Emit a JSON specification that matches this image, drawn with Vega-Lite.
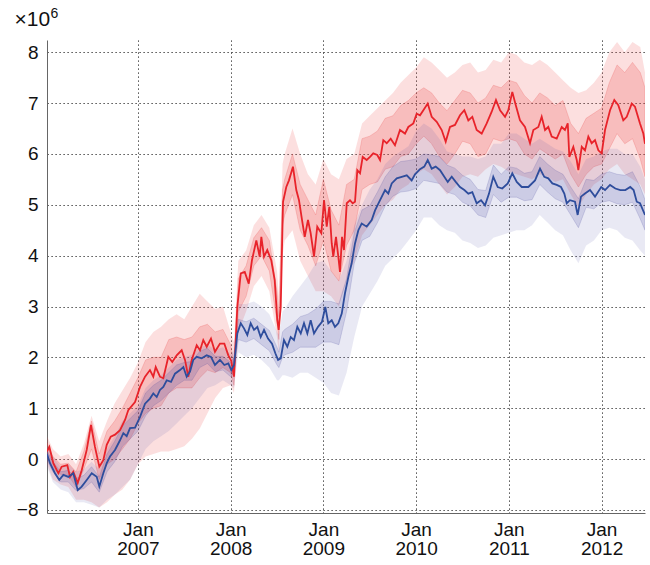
{
  "$schema": "https://vega.github.io/schema/vega-lite/v6.json",
  "width": 598,
  "height": 473,
  "autosize": "none",
  "padding": {"left": 47, "top": 40, "right": 5, "bottom": 52},
  "config": {
    "view": {"stroke": null},
    "font": "Liberation Sans",
    "axis": {"grid": true, "gridDash": [1.2, 2.8], "gridColor": "#222", "gridWidth": 1, "gridOpacity": 1, "ticks": false, "domainColor": "#666", "domainWidth": 1, "labelFontSize": 19, "labelColor": "#111", "labelFont": "Liberation Sans", "titleFont": "Liberation Sans", "titleFontWeight": "normal", "titleColor": "#111"},
    "axisY": {"titleFontSize": 21},
    "axisX": {"titleFontSize": 14}
  },
  "datasets": {
    "lines": [
      {"t":2006.02,"s":"red","v":0.15},{"t":2006.045,"s":"red","v":0.24},{"t":2006.088,"s":"red","v":-0.08},{"t":2006.142,"s":"red","v":-0.28},{"t":2006.178,"s":"red","v":-0.15},{"t":2006.239,"s":"red","v":-0.12},{"t":2006.268,"s":"red","v":-0.35},{"t":2006.303,"s":"red","v":-0.25},{"t":2006.351,"s":"red","v":-0.47},{"t":2006.394,"s":"red","v":-0.22},{"t":2006.448,"s":"red","v":0.18},{"t":2006.494,"s":"red","v":0.67},{"t":2006.537,"s":"red","v":0.24},{"t":2006.584,"s":"red","v":-0.15},{"t":2006.627,"s":"red","v":-0.02},{"t":2006.664,"s":"red","v":0.28},{"t":2006.707,"s":"red","v":0.44},{"t":2006.753,"s":"red","v":0.48},{"t":2006.807,"s":"red","v":0.57},{"t":2006.861,"s":"red","v":0.77},{"t":2006.896,"s":"red","v":0.96},{"t":2006.969,"s":"red","v":1.12},
      {"t":2007.023,"s":"red","v":1.42},{"t":2007.077,"s":"red","v":1.62},{"t":2007.13,"s":"red","v":1.75},{"t":2007.166,"s":"red","v":1.62},{"t":2007.192,"s":"red","v":1.81},{"t":2007.238,"s":"red","v":1.62},{"t":2007.274,"s":"red","v":1.59},{"t":2007.328,"s":"red","v":2.01},{"t":2007.371,"s":"red","v":1.91},{"t":2007.418,"s":"red","v":2.04},{"t":2007.472,"s":"red","v":2.14},{"t":2007.508,"s":"red","v":1.95},{"t":2007.543,"s":"red","v":1.62},{"t":2007.58,"s":"red","v":1.95},{"t":2007.634,"s":"red","v":2.24},{"t":2007.67,"s":"red","v":2.14},{"t":2007.705,"s":"red","v":2.34},{"t":2007.742,"s":"red","v":2.21},{"t":2007.788,"s":"red","v":2.37},{"t":2007.831,"s":"red","v":2.11},{"t":2007.885,"s":"red","v":2.27},{"t":2007.932,"s":"red","v":2.27},{"t":2007.975,"s":"red","v":2.04},
      {"t":2008.007,"s":"red","v":1.93},{"t":2008.036,"s":"red","v":1.62},{"t":2008.072,"s":"red","v":2.99},{"t":2008.109,"s":"red","v":3.65},{"t":2008.152,"s":"red","v":3.68},{"t":2008.195,"s":"red","v":3.45},{"t":2008.23,"s":"red","v":3.91},{"t":2008.277,"s":"red","v":4.3},{"t":2008.313,"s":"red","v":3.98},{"t":2008.331,"s":"red","v":4.37},{"t":2008.36,"s":"red","v":3.98},{"t":2008.395,"s":"red","v":4.11},{"t":2008.438,"s":"red","v":3.91},{"t":2008.475,"s":"red","v":3.52},{"t":2008.503,"s":"red","v":2.73},{"t":2008.518,"s":"red","v":2.54},{"t":2008.54,"s":"red","v":2.99},{"t":2008.565,"s":"red","v":5.06},{"t":2008.6,"s":"red","v":5.35},{"t":2008.629,"s":"red","v":5.48},{"t":2008.672,"s":"red","v":5.75},{"t":2008.708,"s":"red","v":5.29},{"t":2008.737,"s":"red","v":5.09},{"t":2008.77,"s":"red","v":4.7},{"t":2008.799,"s":"red","v":4.37},{"t":2008.834,"s":"red","v":4.7},{"t":2008.863,"s":"red","v":4.44},{"t":2008.899,"s":"red","v":3.98},{"t":2008.934,"s":"red","v":4.57},{"t":2008.978,"s":"red","v":4.44},
      {"t":2009.007,"s":"red","v":5.09},{"t":2009.036,"s":"red","v":4.57},{"t":2009.064,"s":"red","v":4.96},{"t":2009.09,"s":"red","v":4.24},{"t":2009.107,"s":"red","v":3.98},{"t":2009.136,"s":"red","v":4.37},{"t":2009.161,"s":"red","v":3.98},{"t":2009.179,"s":"red","v":3.68},{"t":2009.201,"s":"red","v":4.37},{"t":2009.222,"s":"red","v":4.11},{"t":2009.252,"s":"red","v":5.03},{"t":2009.287,"s":"red","v":5.09},{"t":2009.316,"s":"red","v":5.03},{"t":2009.341,"s":"red","v":5.06},{"t":2009.366,"s":"red","v":5.68},{"t":2009.395,"s":"red","v":5.62},{"t":2009.424,"s":"red","v":5.94},{"t":2009.467,"s":"red","v":5.88},{"t":2009.503,"s":"red","v":5.94},{"t":2009.538,"s":"red","v":6.01},{"t":2009.581,"s":"red","v":5.98},{"t":2009.611,"s":"red","v":5.88},{"t":2009.646,"s":"red","v":6.27},{"t":2009.683,"s":"red","v":6.21},{"t":2009.726,"s":"red","v":6.3},{"t":2009.772,"s":"red","v":6.17},{"t":2009.826,"s":"red","v":6.47},{"t":2009.88,"s":"red","v":6.4},{"t":2009.916,"s":"red","v":6.53},{"t":2009.97,"s":"red","v":6.6},
      {"t":2010.006,"s":"red","v":6.79},{"t":2010.042,"s":"red","v":6.76},{"t":2010.078,"s":"red","v":6.86},{"t":2010.125,"s":"red","v":6.99},{"t":2010.168,"s":"red","v":6.73},{"t":2010.222,"s":"red","v":6.63},{"t":2010.276,"s":"red","v":6.47},{"t":2010.319,"s":"red","v":6.24},{"t":2010.365,"s":"red","v":6.53},{"t":2010.419,"s":"red","v":6.57},{"t":2010.473,"s":"red","v":6.76},{"t":2010.52,"s":"red","v":6.86},{"t":2010.563,"s":"red","v":6.66},{"t":2010.606,"s":"red","v":6.73},{"t":2010.653,"s":"red","v":6.47},{"t":2010.707,"s":"red","v":6.4},{"t":2010.761,"s":"red","v":6.6},{"t":2010.815,"s":"red","v":6.83},{"t":2010.861,"s":"red","v":7.06},{"t":2010.905,"s":"red","v":6.86},{"t":2010.959,"s":"red","v":6.73},{"t":2010.994,"s":"red","v":6.86},
      {"t":2011.037,"s":"red","v":7.22},{"t":2011.074,"s":"red","v":6.96},{"t":2011.12,"s":"red","v":6.66},{"t":2011.174,"s":"red","v":6.53},{"t":2011.228,"s":"red","v":6.21},{"t":2011.264,"s":"red","v":6.47},{"t":2011.318,"s":"red","v":6.53},{"t":2011.354,"s":"red","v":6.73},{"t":2011.39,"s":"red","v":6.47},{"t":2011.425,"s":"red","v":6.53},{"t":2011.462,"s":"red","v":6.34},{"t":2011.516,"s":"red","v":6.3},{"t":2011.57,"s":"red","v":6.53},{"t":2011.605,"s":"red","v":6.47},{"t":2011.635,"s":"red","v":6.6},{"t":2011.652,"s":"red","v":5.94},{"t":2011.695,"s":"red","v":6.14},{"t":2011.732,"s":"red","v":5.88},{"t":2011.749,"s":"red","v":5.68},{"t":2011.786,"s":"red","v":6.14},{"t":2011.821,"s":"red","v":6.07},{"t":2011.857,"s":"red","v":6.34},{"t":2011.893,"s":"red","v":6.21},{"t":2011.929,"s":"red","v":6.27},{"t":2011.965,"s":"red","v":6.07},
      {"t":2012.001,"s":"red","v":6.01},{"t":2012.037,"s":"red","v":6.47},{"t":2012.091,"s":"red","v":6.86},{"t":2012.137,"s":"red","v":7.06},{"t":2012.18,"s":"red","v":6.96},{"t":2012.234,"s":"red","v":6.66},{"t":2012.271,"s":"red","v":6.73},{"t":2012.325,"s":"red","v":6.99},{"t":2012.36,"s":"red","v":6.93},{"t":2012.414,"s":"red","v":6.6},{"t":2012.45,"s":"red","v":6.4},{"t":2012.468,"s":"red","v":6.2},
      {"t":2006.02,"s":"blue","v":0.1},{"t":2006.052,"s":"blue","v":-0.08},{"t":2006.106,"s":"blue","v":-0.28},{"t":2006.152,"s":"blue","v":-0.41},{"t":2006.196,"s":"blue","v":-0.31},{"t":2006.25,"s":"blue","v":-0.35},{"t":2006.303,"s":"blue","v":-0.28},{"t":2006.351,"s":"blue","v":-0.61},{"t":2006.394,"s":"blue","v":-0.54},{"t":2006.448,"s":"blue","v":-0.41},{"t":2006.502,"s":"blue","v":-0.28},{"t":2006.556,"s":"blue","v":-0.35},{"t":2006.584,"s":"blue","v":-0.54},{"t":2006.627,"s":"blue","v":-0.28},{"t":2006.664,"s":"blue","v":-0.08},{"t":2006.699,"s":"blue","v":0.05},{"t":2006.753,"s":"blue","v":0.18},{"t":2006.807,"s":"blue","v":0.37},{"t":2006.843,"s":"blue","v":0.51},{"t":2006.879,"s":"blue","v":0.45},{"t":2006.915,"s":"blue","v":0.61},{"t":2006.969,"s":"blue","v":0.62},
      {"t":2007.023,"s":"blue","v":0.83},{"t":2007.077,"s":"blue","v":1.09},{"t":2007.13,"s":"blue","v":1.19},{"t":2007.166,"s":"blue","v":1.29},{"t":2007.203,"s":"blue","v":1.22},{"t":2007.238,"s":"blue","v":1.36},{"t":2007.274,"s":"blue","v":1.42},{"t":2007.311,"s":"blue","v":1.55},{"t":2007.357,"s":"blue","v":1.52},{"t":2007.4,"s":"blue","v":1.68},{"t":2007.454,"s":"blue","v":1.75},{"t":2007.49,"s":"blue","v":1.81},{"t":2007.526,"s":"blue","v":1.62},{"t":2007.562,"s":"blue","v":1.72},{"t":2007.597,"s":"blue","v":1.95},{"t":2007.634,"s":"blue","v":2.01},{"t":2007.688,"s":"blue","v":1.98},{"t":2007.742,"s":"blue","v":2.04},{"t":2007.788,"s":"blue","v":2.01},{"t":2007.831,"s":"blue","v":1.85},{"t":2007.885,"s":"blue","v":1.95},{"t":2007.932,"s":"blue","v":1.85},{"t":2007.975,"s":"blue","v":1.88},
      {"t":2008.007,"s":"blue","v":1.75},{"t":2008.036,"s":"blue","v":1.85},{"t":2008.072,"s":"blue","v":2.47},{"t":2008.109,"s":"blue","v":2.67},{"t":2008.144,"s":"blue","v":2.57},{"t":2008.18,"s":"blue","v":2.44},{"t":2008.216,"s":"blue","v":2.67},{"t":2008.252,"s":"blue","v":2.54},{"t":2008.288,"s":"blue","v":2.6},{"t":2008.324,"s":"blue","v":2.4},{"t":2008.36,"s":"blue","v":2.54},{"t":2008.403,"s":"blue","v":2.37},{"t":2008.446,"s":"blue","v":2.27},{"t":2008.482,"s":"blue","v":2.08},{"t":2008.511,"s":"blue","v":1.95},{"t":2008.54,"s":"blue","v":1.98},{"t":2008.575,"s":"blue","v":2.34},{"t":2008.611,"s":"blue","v":2.21},{"t":2008.648,"s":"blue","v":2.4},{"t":2008.683,"s":"blue","v":2.34},{"t":2008.719,"s":"blue","v":2.6},{"t":2008.756,"s":"blue","v":2.47},{"t":2008.791,"s":"blue","v":2.67},{"t":2008.827,"s":"blue","v":2.47},{"t":2008.863,"s":"blue","v":2.73},{"t":2008.899,"s":"blue","v":2.47},{"t":2008.942,"s":"blue","v":2.6},{"t":2008.985,"s":"blue","v":2.7},
      {"t":2009.021,"s":"blue","v":2.99},{"t":2009.053,"s":"blue","v":2.67},{"t":2009.09,"s":"blue","v":2.73},{"t":2009.125,"s":"blue","v":2.6},{"t":2009.161,"s":"blue","v":2.67},{"t":2009.198,"s":"blue","v":2.86},{"t":2009.233,"s":"blue","v":3.26},{"t":2009.269,"s":"blue","v":3.58},{"t":2009.305,"s":"blue","v":3.85},{"t":2009.341,"s":"blue","v":4.24},{"t":2009.377,"s":"blue","v":4.5},{"t":2009.413,"s":"blue","v":4.63},{"t":2009.467,"s":"blue","v":4.57},{"t":2009.521,"s":"blue","v":4.7},{"t":2009.557,"s":"blue","v":4.89},{"t":2009.611,"s":"blue","v":5.09},{"t":2009.665,"s":"blue","v":5.29},{"t":2009.7,"s":"blue","v":5.22},{"t":2009.737,"s":"blue","v":5.42},{"t":2009.791,"s":"blue","v":5.52},{"t":2009.845,"s":"blue","v":5.55},{"t":2009.899,"s":"blue","v":5.58},{"t":2009.952,"s":"blue","v":5.48},{"t":2009.988,"s":"blue","v":5.6},
      {"t":2010.042,"s":"blue","v":5.7},{"t":2010.088,"s":"blue","v":5.75},{"t":2010.125,"s":"blue","v":5.88},{"t":2010.168,"s":"blue","v":5.71},{"t":2010.211,"s":"blue","v":5.75},{"t":2010.258,"s":"blue","v":5.68},{"t":2010.304,"s":"blue","v":5.55},{"t":2010.341,"s":"blue","v":5.45},{"t":2010.384,"s":"blue","v":5.55},{"t":2010.427,"s":"blue","v":5.45},{"t":2010.473,"s":"blue","v":5.35},{"t":2010.52,"s":"blue","v":5.29},{"t":2010.563,"s":"blue","v":5.22},{"t":2010.606,"s":"blue","v":5.25},{"t":2010.653,"s":"blue","v":5.03},{"t":2010.7,"s":"blue","v":5.09},{"t":2010.743,"s":"blue","v":4.99},{"t":2010.786,"s":"blue","v":5.22},{"t":2010.832,"s":"blue","v":5.55},{"t":2010.88,"s":"blue","v":5.35},{"t":2010.929,"s":"blue","v":5.32},{"t":2010.988,"s":"blue","v":5.42},
      {"t":2011.037,"s":"blue","v":5.62},{"t":2011.085,"s":"blue","v":5.45},{"t":2011.139,"s":"blue","v":5.35},{"t":2011.21,"s":"blue","v":5.35},{"t":2011.282,"s":"blue","v":5.48},{"t":2011.336,"s":"blue","v":5.71},{"t":2011.382,"s":"blue","v":5.55},{"t":2011.425,"s":"blue","v":5.52},{"t":2011.469,"s":"blue","v":5.42},{"t":2011.516,"s":"blue","v":5.39},{"t":2011.562,"s":"blue","v":5.35},{"t":2011.598,"s":"blue","v":5.22},{"t":2011.624,"s":"blue","v":5.03},{"t":2011.659,"s":"blue","v":5.09},{"t":2011.713,"s":"blue","v":5.06},{"t":2011.742,"s":"blue","v":4.8},{"t":2011.778,"s":"blue","v":5.16},{"t":2011.821,"s":"blue","v":5.22},{"t":2011.875,"s":"blue","v":5.29},{"t":2011.929,"s":"blue","v":5.16},{"t":2011.996,"s":"blue","v":5.35},
      {"t":2012.037,"s":"blue","v":5.29},{"t":2012.091,"s":"blue","v":5.39},{"t":2012.148,"s":"blue","v":5.32},{"t":2012.202,"s":"blue","v":5.29},{"t":2012.256,"s":"blue","v":5.29},{"t":2012.309,"s":"blue","v":5.35},{"t":2012.345,"s":"blue","v":5.29},{"t":2012.379,"s":"blue","v":5.06},{"t":2012.414,"s":"blue","v":5.03},{"t":2012.468,"s":"blue","v":4.8}
    ],
    "bands": [
      {"t":2006.02,"rol":-0.1,"ril":0.05,"rih":0.32,"roh":0.45,"bol":-0.15,"bil":-0.02,"bih":0.16,"boh":0.25},
      {"t":2006.083,"rol":-0.4,"ril":-0.2,"rih":0.05,"roh":0.2,"bol":-0.45,"bil":-0.25,"bih":-0.05,"boh":0.05},
      {"t":2006.167,"rol":-0.5,"ril":-0.3,"rih":-0.1,"roh":0.05,"bol":-0.6,"bil":-0.45,"bih":-0.25,"boh":-0.15},
      {"t":2006.25,"rol":-0.55,"ril":-0.32,"rih":-0.08,"roh":0.1,"bol":-0.65,"bil":-0.45,"bih":-0.22,"boh":-0.1},
      {"t":2006.333,"rol":-0.8,"ril":-0.55,"rih":-0.25,"roh":-0.1,"bol":-0.85,"bil":-0.62,"bih":-0.38,"boh":-0.25},
      {"t":2006.417,"rol":-0.8,"ril":-0.2,"rih":0.15,"roh":0.3,"bol":-0.85,"bil":-0.58,"bih":-0.32,"boh":-0.2},
      {"t":2006.5,"rol":-0.85,"ril":0.2,"rih":0.75,"roh":0.85,"bol":-0.9,"bil":-0.45,"bih":-0.15,"boh":-0.05},
      {"t":2006.583,"rol":-0.95,"ril":-0.4,"rih":0.1,"roh":0.35,"bol":-0.95,"bil":-0.65,"bih":-0.35,"boh":-0.2},
      {"t":2006.667,"rol":-0.85,"ril":-0.1,"rih":0.55,"roh":0.75,"bol":-0.8,"bil":-0.25,"bih":0.1,"boh":0.2},
      {"t":2006.75,"rol":-0.7,"ril":0.0,"rih":0.75,"roh":1.1,"bol":-0.7,"bil":-0.05,"bih":0.35,"boh":0.45},
      {"t":2006.833,"rol":-0.6,"ril":0.2,"rih":1.0,"roh":1.35,"bol":-0.55,"bil":0.25,"bih":0.65,"boh":0.75},
      {"t":2006.917,"rol":-0.4,"ril":0.4,"rih":1.3,"roh":1.6,"bol":-0.4,"bil":0.4,"bih":0.8,"boh":0.9},
      {"t":2007.0,"rol":-0.1,"ril":0.7,"rih":1.6,"roh":1.9,"bol":-0.1,"bil":0.55,"bih":0.95,"boh":1.05},
      {"t":2007.083,"rol":0.05,"ril":0.9,"rih":1.95,"roh":2.3,"bol":0.2,"bil":0.85,"bih":1.3,"boh":1.4},
      {"t":2007.167,"rol":0.1,"ril":1.0,"rih":2.0,"roh":2.5,"bol":0.35,"bil":1.05,"bih":1.45,"boh":1.55},
      {"t":2007.25,"rol":0.15,"ril":1.05,"rih":2.0,"roh":2.6,"bol":0.45,"bil":1.15,"bih":1.55,"boh":1.65},
      {"t":2007.333,"rol":0.15,"ril":1.3,"rih":2.35,"roh":2.75,"bol":0.55,"bil":1.3,"bih":1.7,"boh":1.8},
      {"t":2007.417,"rol":0.2,"ril":1.4,"rih":2.4,"roh":2.85,"bol":0.7,"bil":1.45,"bih":1.85,"boh":1.95},
      {"t":2007.5,"rol":0.25,"ril":1.4,"rih":2.35,"roh":2.75,"bol":0.85,"bil":1.55,"bih":1.9,"boh":2.0},
      {"t":2007.583,"rol":0.4,"ril":1.4,"rih":2.4,"roh":3.0,"bol":1.0,"bil":1.55,"bih":1.92,"boh":2.05},
      {"t":2007.667,"rol":0.6,"ril":1.6,"rih":2.6,"roh":3.25,"bol":1.2,"bil":1.8,"bih":2.12,"boh":2.2},
      {"t":2007.75,"rol":0.9,"ril":1.75,"rih":2.65,"roh":3.1,"bol":1.4,"bil":1.88,"bih":2.18,"boh":2.25},
      {"t":2007.833,"rol":1.2,"ril":1.7,"rih":2.5,"roh":2.95,"bol":1.45,"bil":1.72,"bih":2.02,"boh":2.15},
      {"t":2007.917,"rol":1.4,"ril":1.8,"rih":2.55,"roh":3.0,"bol":1.55,"bil":1.75,"bih":2.02,"boh":2.2},
      {"t":2008.0,"rol":1.45,"ril":1.7,"rih":2.25,"roh":2.5,"bol":1.45,"bil":1.62,"bih":1.9,"boh":2.05},
      {"t":2008.036,"rol":1.3,"ril":1.45,"rih":1.9,"roh":2.3,"bol":1.4,"bil":1.7,"bih":2.0,"boh":2.15},
      {"t":2008.083,"rol":2.5,"ril":2.9,"rih":3.55,"roh":3.9,"bol":2.1,"bil":2.35,"bih":2.75,"boh":3.05},
      {"t":2008.167,"rol":2.9,"ril":3.2,"rih":3.8,"roh":4.1,"bol":2.0,"bil":2.3,"bih":2.7,"boh":3.05},
      {"t":2008.25,"rol":3.4,"ril":3.8,"rih":4.35,"roh":4.6,"bol":2.05,"bil":2.37,"bih":2.77,"boh":3.1},
      {"t":2008.333,"rol":3.6,"ril":4.0,"rih":4.55,"roh":4.8,"bol":1.95,"bil":2.25,"bih":2.65,"boh":3.0},
      {"t":2008.417,"rol":3.3,"ril":3.7,"rih":4.3,"roh":4.55,"bol":1.8,"bil":2.13,"bih":2.53,"boh":2.85},
      {"t":2008.5,"rol":2.4,"ril":2.7,"rih":3.3,"roh":3.7,"bol":1.55,"bil":1.85,"bih":2.2,"boh":2.5},
      {"t":2008.52,"rol":2.1,"ril":2.35,"rih":2.8,"roh":3.2,"bol":1.55,"bil":1.8,"bih":2.1,"boh":2.45},
      {"t":2008.56,"rol":4.0,"ril":4.6,"rih":5.3,"roh":5.8,"bol":1.65,"bil":2.0,"bih":2.5,"boh":2.9},
      {"t":2008.583,"rol":4.3,"ril":4.8,"rih":5.5,"roh":6.0,"bol":1.65,"bil":2.05,"bih":2.55,"boh":2.95},
      {"t":2008.667,"rol":4.5,"ril":5.2,"rih":6.0,"roh":6.5,"bol":1.6,"bil":2.1,"bih":2.65,"boh":3.2},
      {"t":2008.75,"rol":3.9,"ril":4.5,"rih":5.4,"roh":6.0,"bol":1.7,"bil":2.2,"bih":2.8,"boh":3.4},
      {"t":2008.833,"rol":3.6,"ril":4.2,"rih":5.1,"roh":5.6,"bol":1.7,"bil":2.2,"bih":2.85,"boh":3.6},
      {"t":2008.917,"rol":3.3,"ril":3.8,"rih":4.8,"roh":5.4,"bol":1.6,"bil":2.2,"bih":2.95,"boh":3.85},
      {"t":2009.0,"rol":3.3,"ril":4.3,"rih":5.5,"roh":5.9,"bol":1.5,"bil":2.3,"bih":3.1,"boh":3.9},
      {"t":2009.083,"rol":3.2,"ril":3.7,"rih":4.9,"roh":5.6,"bol":1.3,"bil":2.3,"bih":3.1,"boh":3.7},
      {"t":2009.167,"rol":3.0,"ril":3.5,"rih":4.6,"roh":5.5,"bol":1.25,"bil":2.25,"bih":3.05,"boh":3.5},
      {"t":2009.25,"rol":3.5,"ril":4.2,"rih":5.4,"roh":5.9,"bol":1.7,"bil":2.9,"bih":3.55,"boh":3.9},
      {"t":2009.333,"rol":3.9,"ril":4.5,"rih":5.5,"roh":6.0,"bol":2.4,"bil":3.85,"bih":4.45,"boh":4.6},
      {"t":2009.417,"rol":4.4,"ril":5.3,"rih":6.3,"roh":6.6,"bol":3.0,"bil":4.3,"bih":4.9,"boh":5.0},
      {"t":2009.5,"rol":4.6,"ril":5.4,"rih":6.35,"roh":6.75,"bol":3.25,"bil":4.38,"bih":4.98,"boh":5.3},
      {"t":2009.583,"rol":4.8,"ril":5.45,"rih":6.45,"roh":6.9,"bol":3.5,"bil":4.65,"bih":5.25,"boh":5.5},
      {"t":2009.667,"rol":5.0,"ril":5.7,"rih":6.7,"roh":7.05,"bol":3.8,"bil":4.98,"bih":5.55,"boh":5.8},
      {"t":2009.75,"rol":5.1,"ril":5.75,"rih":6.75,"roh":7.2,"bol":3.95,"bil":5.17,"bih":5.75,"boh":5.95},
      {"t":2009.833,"rol":5.3,"ril":5.95,"rih":6.95,"roh":7.4,"bol":4.1,"bil":5.25,"bih":5.85,"boh":6.05},
      {"t":2009.917,"rol":5.4,"ril":6.0,"rih":7.05,"roh":7.55,"bol":4.3,"bil":5.27,"bih":5.87,"boh":6.15},
      {"t":2010.0,"rol":5.6,"ril":6.2,"rih":7.2,"roh":7.7,"bol":4.5,"bil":5.32,"bih":5.9,"boh":6.45},
      {"t":2010.083,"rol":5.7,"ril":6.35,"rih":7.3,"roh":7.9,"bol":4.75,"bil":5.48,"bih":6.0,"boh":6.6},
      {"t":2010.167,"rol":5.6,"ril":6.2,"rih":7.2,"roh":7.8,"bol":4.75,"bil":5.45,"bih":5.98,"boh":6.5},
      {"t":2010.25,"rol":5.4,"ril":5.95,"rih":7.0,"roh":7.65,"bol":4.6,"bil":5.42,"bih":5.95,"boh":6.3},
      {"t":2010.333,"rol":5.2,"ril":5.8,"rih":6.85,"roh":7.5,"bol":4.5,"bil":5.25,"bih":5.78,"boh":6.05},
      {"t":2010.417,"rol":5.35,"ril":6.0,"rih":7.05,"roh":7.6,"bol":4.45,"bil":5.2,"bih":5.72,"boh":6.0},
      {"t":2010.5,"rol":5.55,"ril":6.25,"rih":7.25,"roh":7.75,"bol":4.3,"bil":5.05,"bih":5.58,"boh":5.95},
      {"t":2010.583,"rol":5.6,"ril":6.2,"rih":7.2,"roh":7.8,"bol":4.25,"bil":4.98,"bih":5.5,"boh":5.95},
      {"t":2010.667,"rol":5.55,"ril":5.95,"rih":7.0,"roh":7.6,"bol":4.15,"bil":4.8,"bih":5.3,"boh":5.9},
      {"t":2010.75,"rol":5.7,"ril":6.0,"rih":7.1,"roh":7.65,"bol":4.2,"bil":4.75,"bih":5.28,"boh":5.95},
      {"t":2010.833,"rol":5.8,"ril":6.3,"rih":7.35,"roh":7.85,"bol":4.35,"bil":5.2,"bih":5.78,"boh":6.2},
      {"t":2010.917,"rol":5.75,"ril":6.25,"rih":7.3,"roh":7.8,"bol":4.4,"bil":5.05,"bih":5.6,"boh":6.2},
      {"t":2011.0,"rol":5.65,"ril":6.3,"rih":7.45,"roh":8.0,"bol":4.45,"bil":5.15,"bih":5.75,"boh":6.4},
      {"t":2011.083,"rol":5.6,"ril":6.25,"rih":7.4,"roh":7.95,"bol":4.5,"bil":5.15,"bih":5.72,"boh":6.4},
      {"t":2011.167,"rol":5.55,"ril":6.0,"rih":7.15,"roh":7.8,"bol":4.5,"bil":5.08,"bih":5.62,"boh":6.3},
      {"t":2011.25,"rol":5.5,"ril":5.9,"rih":7.0,"roh":7.75,"bol":4.6,"bil":5.1,"bih":5.65,"boh":6.2},
      {"t":2011.333,"rol":5.6,"ril":6.1,"rih":7.2,"roh":7.85,"bol":4.8,"bil":5.4,"bih":5.95,"boh":6.3},
      {"t":2011.417,"rol":5.55,"ril":6.0,"rih":7.1,"roh":7.75,"bol":4.65,"bil":5.25,"bih":5.8,"boh":6.2},
      {"t":2011.5,"rol":5.45,"ril":5.9,"rih":6.95,"roh":7.6,"bol":4.5,"bil":5.12,"bih":5.68,"boh":6.1},
      {"t":2011.583,"rol":5.5,"ril":6.0,"rih":7.05,"roh":7.45,"bol":4.4,"bil":5.05,"bih":5.6,"boh":6.05},
      {"t":2011.667,"rol":5.2,"ril":5.6,"rih":6.6,"roh":7.3,"bol":4.1,"bil":4.8,"bih":5.35,"boh":5.85},
      {"t":2011.75,"rol":4.95,"ril":5.35,"rih":6.4,"roh":7.2,"bol":3.85,"bil":4.55,"bih":5.12,"boh":5.6},
      {"t":2011.833,"rol":5.2,"ril":5.6,"rih":6.7,"roh":7.25,"bol":4.2,"bil":4.95,"bih":5.5,"boh":5.9},
      {"t":2011.917,"rol":5.4,"ril":5.75,"rih":6.8,"roh":7.4,"bol":4.3,"bil":4.92,"bih":5.48,"boh":5.95},
      {"t":2012.0,"rol":5.5,"ril":5.8,"rih":6.9,"roh":7.6,"bol":4.5,"bil":5.05,"bih":5.6,"boh":6.05},
      {"t":2012.083,"rol":5.7,"ril":6.1,"rih":7.4,"roh":8.0,"bol":4.55,"bil":5.08,"bih":5.65,"boh":6.1},
      {"t":2012.167,"rol":5.8,"ril":6.4,"rih":7.75,"roh":8.2,"bol":4.5,"bil":5.02,"bih":5.6,"boh":6.1},
      {"t":2012.25,"rol":5.6,"ril":6.2,"rih":7.6,"roh":8.0,"bol":4.35,"bil":5.0,"bih":5.58,"boh":6.0},
      {"t":2012.333,"rol":5.5,"ril":6.3,"rih":7.8,"roh":8.2,"bol":4.3,"bil":5.05,"bih":5.65,"boh":6.0},
      {"t":2012.417,"rol":5.4,"ril":5.9,"rih":7.6,"roh":8.1,"bol":4.1,"bil":4.72,"bih":5.35,"boh":5.75},
      {"t":2012.468,"rol":5.2,"ril":5.55,"rih":7.3,"roh":7.6,"bol":4.0,"bil":4.5,"bih":5.1,"boh":5.5}
    ]
  },
  "encoding": {
    "x": {"field": "t", "type": "quantitative", "scale": {"domain": [2006.0198, 2012.468], "nice": false, "zero": false},
      "axis": {"values": [2007, 2008, 2009, 2010, 2011, 2012], "labelExpr": "['Jan', format(datum.value, 'd')]", "labelPadding": 7, "labelLineHeight": 19,
        "title": "6", "titleX": 3, "titleY": -496, "titleAlign": "left", "titleBaseline": "alphabetic", "titleAngle": 0, "titleFontSize": 14}}
  },
  "layer": [
    {"data": {"name": "bands"}, "mark": {"type": "area", "color": "#ee4444", "fillOpacity": 0.17, "clip": true},
      "encoding": {"y": {"field": "rol", "type": "quantitative", "scale": {"domain": [-1.06, 8.24], "nice": false, "zero": false},
        "axis": {"values": [-1, 0, 1, 2, 3, 4, 5, 6, 7, 8], "labelPadding": 9, "labelExpr": "datum.value == -1 ? '−8' : datum.label",
          "title": "×10", "titleX": -33, "titleY": -15, "titleAlign": "left", "titleBaseline": "alphabetic", "titleAngle": 0, "titleFontSize": 21}},
        "y2": {"field": "roh"}}},
    {"data": {"name": "bands"}, "mark": {"type": "area", "fill": "#ee4444", "fillOpacity": 0.21, "stroke": "#e84040", "strokeOpacity": 0.35, "strokeWidth": 0.6, "clip": true},
      "encoding": {"y": {"field": "ril", "type": "quantitative"}, "y2": {"field": "rih"}}},
    {"data": {"name": "bands"}, "mark": {"type": "area", "color": "#5555aa", "fillOpacity": 0.13, "clip": true},
      "encoding": {"y": {"field": "bol", "type": "quantitative"}, "y2": {"field": "boh"}}},
    {"data": {"name": "bands"}, "mark": {"type": "area", "fill": "#44449a", "fillOpacity": 0.17, "stroke": "#44449a", "strokeOpacity": 0.3, "strokeWidth": 0.6, "clip": true},
      "encoding": {"y": {"field": "bil", "type": "quantitative"}, "y2": {"field": "bih"}}},
    {"data": {"name": "lines"}, "mark": {"type": "line", "strokeWidth": 1.8, "clip": true},
      "encoding": {"y": {"field": "v", "type": "quantitative"},
        "color": {"field": "s", "type": "nominal", "scale": {"domain": ["red", "blue"], "range": ["#e8232a", "#2e4d9c"]}, "legend": null}}},
    {"mark": {"type": "rule", "strokeDash": [1.2, 2.8], "color": "#222"},
      "encoding": {"y": {"datum": 8.24}}}
  ]
}
